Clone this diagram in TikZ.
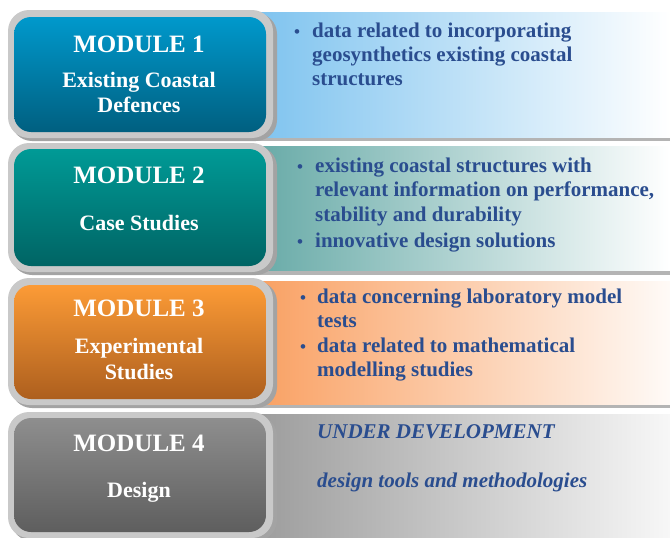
\documentclass[tikz,border=0pt]{standalone}
\usepackage{fontspec}
\setmainfont{Liberation Serif}
\usetikzlibrary{positioning}

\definecolor{textBlue}{HTML}{2A4D8F}
\definecolor{frameGray}{HTML}{C9C9C9}
\definecolor{frameShadow}{HTML}{A3A3A3}
\definecolor{stripGray}{HTML}{B4B4B4}
% module colours: top / bottom of the box, left end of the band
\definecolor{blueTop}{HTML}{0099CC}
\definecolor{blueBottom}{HTML}{005F80}
\definecolor{blueBand}{HTML}{7EC3EF}
\definecolor{tealTop}{HTML}{009A96}
\definecolor{tealBottom}{HTML}{006464}
\definecolor{tealBand}{HTML}{67AAA7}
\definecolor{orangeTop}{HTML}{FC9B36}
\definecolor{orangeBottom}{HTML}{AD5F1E}
\definecolor{orangeBand}{HTML}{F9A062}
\definecolor{grayTop}{HTML}{8E8E8E}
\definecolor{grayBottom}{HTML}{5E5E5E}
\definecolor{grayBand}{HTML}{9C9C9C}

% lines of a band text, first baseline on the node's base
\newcommand{\bandlines}[1]{\begin{tabular}[t]{@{}l@{}}#1\end{tabular}}

\tikzset{
  frame_shadow/.style={rounded corners=21pt, fill=frameShadow},
  frame/.style={rounded corners=21pt, fill=frameGray},
  module_box/.style={rounded corners=17pt},
  band_strip/.style={fill=stripGray},
  title/.style={anchor=base, text=white, font=\fontsize{25}{28}\selectfont\bfseries},
  subtitle/.style={anchor=base, text=white, font=\fontsize{22}{25}\selectfont\bfseries},
  dot/.style={anchor=base, text=textBlue, font=\fontsize{17}{20}\selectfont\bfseries},
  info/.style={anchor=base west, inner sep=0pt, text=textBlue,
    font=\fontsize{21}{24.5}\selectfont\bfseries},
  info_it/.style={info, font=\fontsize{21}{24.5}\selectfont\bfseries\itshape}
}

\begin{document}
\begin{tikzpicture}[x=1pt, y=-1pt]
    \useasboundingbox (0,0) rectangle (670,538);

    % bands behind the boxes
    \fill[band_strip] (95,20) rectangle (670,141);
    \shade[left color=blueBand, middle color=blueBand!35!white, right color=white]
        (255,12) rectangle (670,137);
    \fill[band_strip] (95,150) rectangle (670,275);
    \shade[left color=tealBand, middle color=tealBand!35!white, right color=white]
        (255,146) rectangle (670,270);
    \fill[band_strip] (95,285) rectangle (670,408);
    \shade[left color=orangeBand, middle color=orangeBand!40!white, right color=orangeBand!5!white]
        (255,281) rectangle (670,404);
    \shade[left color=grayBand, middle color=grayBand!40!white, right color=grayBand!8!white]
        (255,414) rectangle (670,538);

    % module 1
    \fill[frame_shadow] (11,13) rectangle (277,141);
    \fill[frame] (8,10) rectangle (273,138);
    \shade[module_box, top color=blueTop, bottom color=blueBottom] (14,17) rectangle (266,132);
    % module 2
    \fill[frame_shadow] (11,146) rectangle (277,275);
    \fill[frame] (8,143) rectangle (273,272);
    \shade[module_box, top color=tealTop, bottom color=tealBottom] (14,149) rectangle (266,266);
    % module 3
    \fill[frame_shadow] (11,281) rectangle (277,408);
    \fill[frame] (8,278) rectangle (273,405);
    \shade[module_box, top color=orangeTop, bottom color=orangeBottom] (14,285) rectangle (266,399);
    % module 4
    \fill[frame_shadow] (11,415) rectangle (277,541);
    \fill[frame] (8,412) rectangle (273,538);
    \shade[module_box, top color=grayTop, bottom color=grayBottom] (14,418) rectangle (266,532);

    % box labels
    \node[title] (t1) at (139,52) {MODULE 1};
    \node[subtitle] (s1a) at (139,87) {Existing Coastal};
    \node[subtitle] (s1b) at (139,112) {Defences};
    \node[title] (t2) at (139,183) {MODULE 2};
    \node[subtitle] (s2) at (139,230) {Case Studies};
    \node[title] (t3) at (139,316) {MODULE 3};
    \node[subtitle] (s3a) at (139,353) {Experimental};
    \node[subtitle] (s3b) at (139,379) {Studies};
    \node[title] (t4) at (139,451) {MODULE 4};
    \node[subtitle] (s4) at (139,497) {Design};

    % band texts
    \node[dot] (d1) at (297,37) {•};
    \node[info] (i1) at (312,37) {\bandlines{data related to incorporating\\geosynthetics existing coastal\\structures}};
    \node[dot] (d2a) at (300,172) {•};
    \node[info] (i2a) at (315,172) {\bandlines{existing coastal structures with\\relevant information on performance,\\stability and durability}};
    \node[dot] (d2b) at (300,247) {•};
    \node[info] (i2b) at (315,247) {innovative design solutions};
    \node[dot] (d3a) at (303,303) {•};
    \node[info] (i3a) at (317,303) {\bandlines{data concerning laboratory model\\tests}};
    \node[dot] (d3b) at (303,352) {•};
    \node[info] (i3b) at (317,352) {\bandlines{data related to mathematical\\modelling studies}};
    \node[info_it] (u4) at (317,438) {UNDER DEVELOPMENT};
    \node[info_it] (i4) at (317,487) {design tools and methodologies};
\end{tikzpicture}
\end{document}
